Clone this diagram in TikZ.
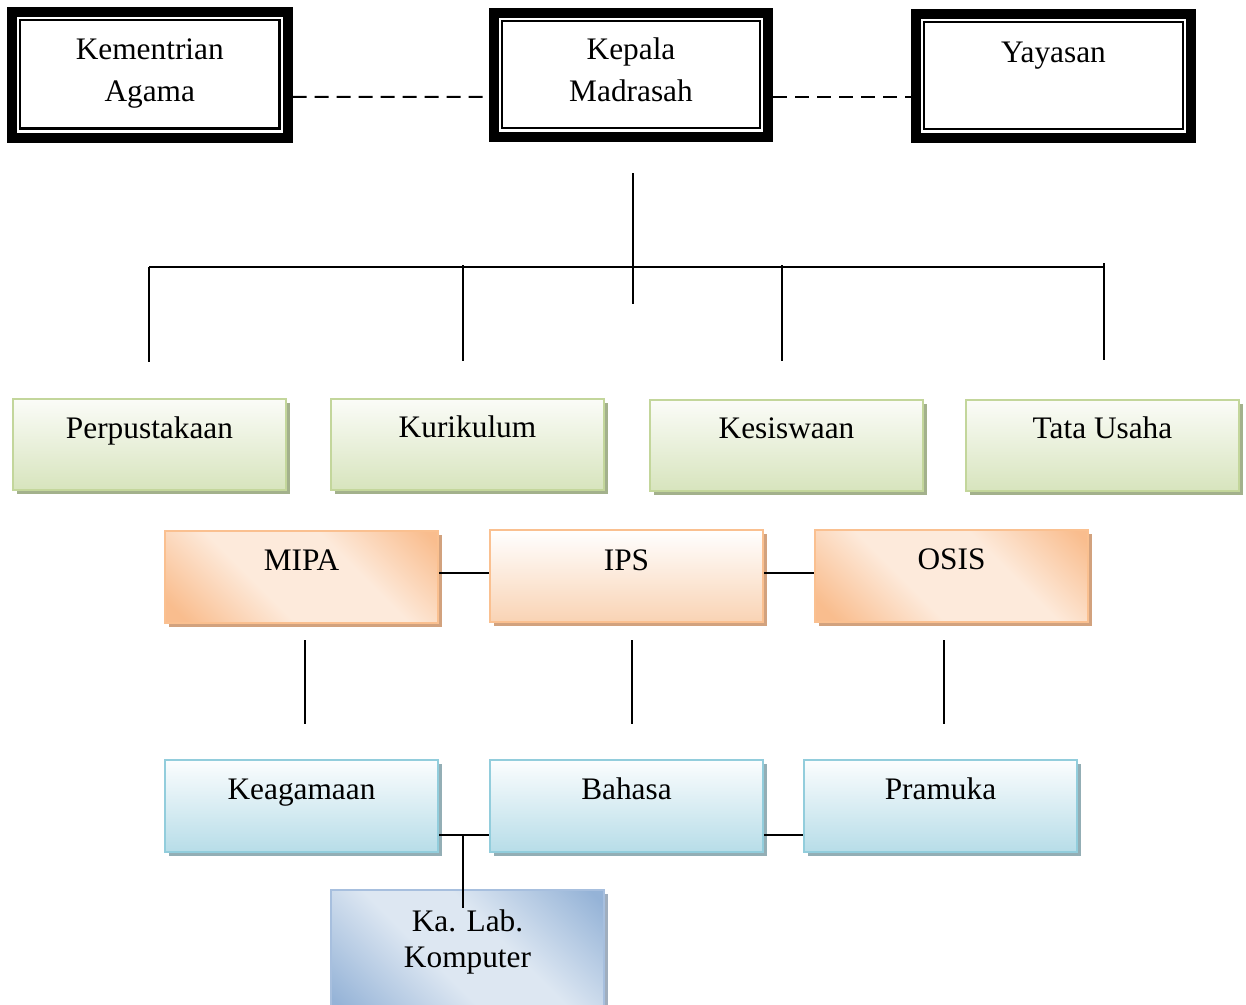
\documentclass[tikz,border=0pt]{standalone}
\usepackage{fontspec}
\setmainfont{Liberation Serif}
\usetikzlibrary{fit,shadows,calc}
\definecolor{gborder}{HTML}{C3D69B}
\definecolor{gtop}{HTML}{FBFCF8}
\definecolor{gbot}{HTML}{D7E4BD}
\definecolor{gshadow}{HTML}{A3B18C}
\definecolor{oborder}{HTML}{FAC090}
\definecolor{odark}{HTML}{F9BD8E}
\definecolor{olight}{HTML}{FDEADB}
\definecolor{obot}{HTML}{F9D3B4}
\definecolor{oshadow}{HTML}{D2A27E}
\definecolor{bborder}{HTML}{92CDDC}
\definecolor{btop}{HTML}{FBFDFE}
\definecolor{bbot}{HTML}{B7DDE8}
\definecolor{bshadow}{HTML}{93AEB5}
\definecolor{kdark}{HTML}{95B3D7}
\definecolor{klight}{HTML}{DDE7F2}
\definecolor{kborder}{HTML}{A7BFDE}
\definecolor{kshadow}{HTML}{A0AEBE}
\pgfdeclarehorizontalshading{odiag}{100bp}{color(0bp)=(odark); color(19bp)=(odark); color(40bp)=(olight); color(62bp)=(olight); color(83bp)=(odark); color(100bp)=(odark)}
\pgfdeclarehorizontalshading{kdiag}{100bp}{color(0bp)=(kdark); color(17bp)=(kdark); color(42bp)=(klight); color(58bp)=(klight); color(83bp)=(kdark); color(100bp)=(kdark)}
\begin{document}
\begin{tikzpicture}[x=0.75pt,y=-0.75pt,
  every node/.style={inner sep=0pt},
  txt/.style={font=\fontsize{23.5}{31}\selectfont, align=center},
  topbox/.style={draw=black, line width=7.5pt, outer sep=3.75pt, fill=white},
  innerline/.style={draw=black, line width=1.7pt},
  gbox/.style={draw=gborder, line width=2.2pt, top color=gtop, bottom color=gbot,
    drop shadow={shadow xshift=3pt, shadow yshift=-3pt, fill=gshadow, opacity=1}},
  obox/.style={draw=oborder, line width=2.2pt, shading=odiag, shading angle=45,
    drop shadow={shadow xshift=3pt, shadow yshift=-3pt, fill=oshadow, opacity=1}},
  ovbox/.style={draw=oborder, line width=2.2pt, top color=white, bottom color=obot,
    drop shadow={shadow xshift=3pt, shadow yshift=-3pt, fill=oshadow, opacity=1}},
  bbox/.style={draw=bborder, line width=2.2pt, top color=btop, bottom color=bbot,
    drop shadow={shadow xshift=3pt, shadow yshift=-3pt, fill=bshadow, opacity=1}},
  kbox/.style={draw=kborder, line width=1.5pt, shading=kdiag, shading angle=45,
    drop shadow={shadow xshift=3pt, shadow yshift=-3pt, fill=kshadow, opacity=1}},
  conn/.style={draw=black, line width=1.5pt},
  dconn/.style={conn, dash pattern=on 10.5pt off 6pt}
]
\useasboundingbox (0,0) rectangle (1246,1004);
\fill[white] (0,0) rectangle (1246,1004);

% top boxes
\node[topbox, fit={(12,12)(287.5,137.5)}] (ka) {};
\node[topbox, fit={(494,13)(768,137)}] (km) {};
\node[topbox, fit={(916,14)(1191,138)}] (ya) {};
\foreach \n in {ka,km,ya}{
  \draw[innerline] ($(\n.north west)+(13,13)$) rectangle ($(\n.south east)+(-13,-14)$);
}
\node[txt, anchor=base] (tka) at ($(ka.north)+(0,94)$) {Kementrian\\Agama};
\node[txt, anchor=base] (tkm) at ($(km.north)+(0,93)$) {Kepala\\Madrasah};
\node[txt, anchor=base] (tya) at ($(ya.north)+(0,53)$) {Yayasan};

\draw[dconn] ($(ka.east)+(0,22)$) -- ($(km.west)+(0,22)$);
\draw[dconn] ($(km.east)+(0,22)$) -- ($(ya.west)+(0,21)$);

% tree
\coordinate (vt) at (633,173);
\coordinate (vb) at (633,304);
\coordinate (bl) at (149,267);
\coordinate (br) at (1104,267);
\draw[conn] (vt) -- (vb);
\draw[conn] (bl) -- (br);
\coordinate (d1) at (149,362);
\coordinate (u2) at (463,265); \coordinate (d2) at (463,361);
\coordinate (u3) at (782,265); \coordinate (d3) at (782,361);
\coordinate (u4) at (1104,263); \coordinate (d4) at (1104,360);
\draw[conn] (bl) -- (d1);
\draw[conn] (u2) -- (d2);
\draw[conn] (u3) -- (d3);
\draw[conn] (u4) -- (d4);

% green row
\node[gbox, fit={(13,399)(286,490)}] (pe) {};
\node[gbox, fit={(331,399)(604,490)}] (ku) {};
\node[gbox, fit={(650,400)(923,491)}] (ke) {};
\node[gbox, fit={(966,400)(1239,491)}] (tu) {};
\node[txt, anchor=base] (tpe) at ($(pe.north)+(0,41)$) {Perpustakaan};
\node[txt, anchor=base] (tku) at ($(ku.north)+(0,40)$) {Kurikulum};
\node[txt, anchor=base] (tke) at ($(ke.north)+(0,40)$) {Kesiswaan};
\node[txt, anchor=base] (ttu) at ($(tu.north)+(0,40)$) {Tata Usaha};

% orange row
\node[obox, fit={(165,531)(438,623)}] (mi) {};
\node[ovbox, fit={(490,530)(763,622)}] (ip) {};
\node[obox, fit={(815,530)(1088,622)}] (os) {};
\node[txt, anchor=base] (tmi) at ($(mi.north)+(0,41)$) {MIPA};
\node[txt, anchor=base] (tip) at ($(ip.north)+(0,42)$) {IPS};
\node[txt, anchor=base] (tos) at ($(os.north)+(0,41)$) {OSIS};
\draw[conn] ($(mi.east)+(0,-4)$) -- (ip.west |- 0,573);
\draw[conn] ($(ip.east)+(0,-3)$) -- (os.west |- 0,573);

\coordinate (m1) at (305,640); \coordinate (m2) at (305,724);
\coordinate (i1) at (632,640); \coordinate (i2) at (632,724);
\coordinate (o1) at (944,640); \coordinate (o2) at (944,724);
\draw[conn] (m1) -- (m2);
\draw[conn] (i1) -- (i2);
\draw[conn] (o1) -- (o2);

% blue row
\node[bbox, fit={(165,760)(438,852)}] (kg) {};
\node[bbox, fit={(490,760)(763,852)}] (ba) {};
\node[bbox, fit={(804,760)(1077,852)}] (pr) {};
\node[txt, anchor=base] (tkg) at ($(kg.north)+(0,41)$) {Keagamaan};
\node[txt, anchor=base] (tba) at ($(ba.north)+(0,41)$) {Bahasa};
\node[txt, anchor=base] (tpr) at ($(pr.north)+(0,41)$) {Pramuka};

% Ka. Lab.
\node[kbox, fit={(331,890)(604,1012)}] (kl) {};
\node[txt, font=\fontsize{23.5}{27}\selectfont, anchor=base] (tkl) at ($(kl.north)+(0,78)$) {Ka. Lab.\\Komputer};

\coordinate (j) at (463,835);
\draw[conn] (kg.east |- j) -- (ba.west |- j);
\draw[conn] (j) -- (463,908);
\draw[conn] (ba.east |- j) -- (pr.west |- j);
\end{tikzpicture}
\end{document}
